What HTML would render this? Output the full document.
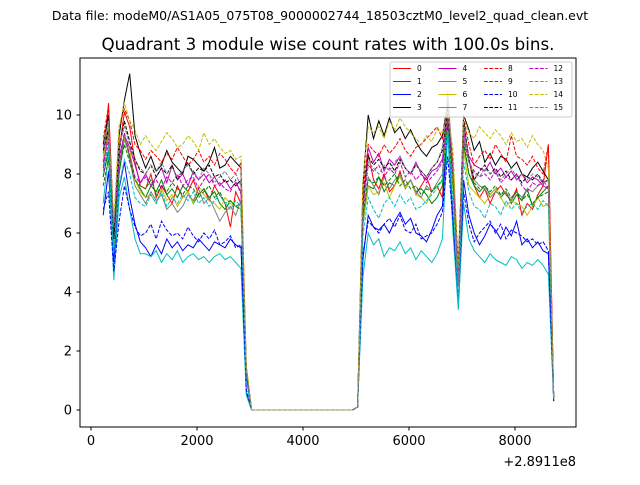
<!DOCTYPE html>
<html><head><meta charset="utf-8"><style>
body{margin:0;background:#fff}
svg text{font-family:"DejaVu Sans","Liberation Sans",sans-serif}
</style></head><body>
<svg id="chart" width="640" height="480" xmlns="http://www.w3.org/2000/svg">
<text x="320" y="20" font-size="12.5" text-anchor="middle">Data file: modeM0/AS1A05_075T08_9000002744_18503cztM0_level2_quad_clean.evt</text>
<text x="328" y="50" font-size="16.7" text-anchor="middle">Quadrant 3 module wise count rates with 100.0s bins.</text>
<g id="plot"></g>
<rect x="80" y="58" width="496" height="369" fill="none" stroke="#000" stroke-width="1"/>
<g id="xaxis"></g>
<g id="yaxis"></g>
<text x="576" y="466" font-size="13" text-anchor="end">+2.8911e8</text>
<g id="legend"></g>
</svg>
<script>
const times=[230,330,430,530,630,730,830,930,1030,1130,1230,1330,1430,1530,1630,1730,1830,1930,2030,2130,2230,2330,2430,2530,2630,2730,2830,2930,
3030,3130,3230,3330,3430,3530,3630,3730,3830,3930,4030,4130,4230,4330,4430,4530,4630,4730,4830,4930,
5030,5130,5230,5330,5430,5530,5630,5730,5830,5930,6030,6130,6230,6330,6430,6530,6630,6730,6830,6930,7030,7130,7230,7330,7430,7530,7630,7730,7830,7930,8030,8130,8230,8330,8430,8530,8630,8730];
const zeros=[0,0,0,0,0,0,0,0,0,0,0,0,0,0,0,0,0,0,0,0];
const seriesNames=["0","1","2","3","4","5","6","7","8","9","10","11","12","13","14","15"];
const colors=["#ff0000","#008000","#0000ff","#000000","#bf00bf","#00bfbf","#bfbf00","#808080","#ff0000","#008000","#0000ff","#000000","#bf00bf","#00bfbf","#bfbf00","#808080"];
const leftVals=[
[8.4,10.4,6.0,8.8,10.1,9.6,8.4,7.6,7.5,8.0,7.2,7.6,7.3,7.0,7.6,7.2,7.4,7.8,7.3,7.5,7.1,7.6,7.3,7.0,6.2,7.4,7.0,1.2],
[7.9,8.8,5.4,8.0,9.2,8.6,7.8,7.5,7.2,7.6,7.4,7.8,7.3,7.5,7.2,7.6,7.4,7.0,7.3,7.5,7.2,7.4,7.0,6.8,7.1,6.9,7.0,1.3],
[6.6,8.1,5.0,7.5,8.4,7.2,6.3,5.7,5.5,5.2,5.6,5.3,5.8,5.5,5.7,5.4,5.6,5.5,5.8,5.6,5.4,5.7,5.6,5.5,5.8,5.6,5.5,0.6],
[9.0,10.0,5.8,9.3,10.5,11.4,9.3,8.7,8.2,8.6,8.1,8.3,8.8,8.4,8.2,8.0,8.6,8.5,8.3,8.1,8.4,8.9,8.2,8.3,8.6,8.4,8.2,1.2],
[8.2,9.5,6.0,8.6,9.3,8.9,8.3,7.7,8.0,7.6,7.9,8.2,7.7,8.3,7.8,8.0,7.6,8.1,7.8,8.0,7.7,7.9,7.6,7.8,7.5,7.7,7.4,1.3],
[7.0,8.7,4.4,7.2,7.9,6.8,5.8,5.3,5.3,5.2,5.4,5.0,5.3,5.1,5.4,5.0,5.2,5.3,5.1,5.2,5.0,5.2,5.3,5.1,5.2,5.0,4.8,0.5],
[8.5,9.6,5.6,8.4,9.2,8.8,7.8,7.4,7.2,7.3,7.0,7.5,7.1,7.3,6.9,7.2,7.4,7.0,7.6,7.3,7.1,7.0,6.8,7.2,7.0,6.9,6.8,1.4],
[8.7,9.7,5.4,8.2,9.3,8.5,7.6,7.3,7.0,7.4,7.1,7.3,6.8,7.0,6.7,6.9,7.3,7.1,7.5,7.0,7.2,6.8,6.4,6.7,6.9,6.6,7.1,1.5],
[9.2,10.3,6.1,9.6,10.2,9.8,9.0,8.8,8.5,8.8,8.6,8.4,8.7,8.5,8.9,8.6,8.3,8.5,8.8,8.4,8.6,8.3,8.7,8.5,8.2,8.0,8.4,1.4],
[7.6,8.5,5.9,8.1,9.0,8.4,7.8,7.6,7.5,7.8,7.3,7.6,7.4,7.7,7.5,7.3,7.6,7.5,7.2,7.4,7.6,7.2,7.4,7.0,7.1,6.9,6.8,1.3],
[6.8,7.4,4.7,6.4,7.6,6.8,6.2,5.9,6.0,6.3,5.8,6.4,6.1,5.9,6.0,5.8,6.2,5.9,5.7,6.0,5.8,6.1,5.6,5.7,5.9,5.5,5.6,0.7],
[8.8,9.5,5.8,8.8,9.8,9.1,8.5,8.1,8.0,8.3,7.9,8.2,8.0,8.3,7.8,8.1,8.4,8.0,8.2,8.1,8.3,7.9,8.0,7.7,7.8,7.6,7.8,1.3],
[7.9,9.2,6.2,8.4,9.4,8.6,7.9,7.7,7.9,7.6,7.8,7.5,7.9,7.7,8.0,7.6,7.8,7.9,7.5,7.8,8.0,7.6,7.7,7.5,7.4,7.8,7.3,1.2],
[8.1,9.0,5.3,7.6,8.5,8.0,7.2,7.0,6.9,7.3,7.0,7.4,6.9,7.2,7.0,7.3,7.1,7.4,7.0,7.2,6.9,7.1,7.3,7.0,6.8,7.1,6.9,1.0],
[9.2,9.6,6.4,9.6,10.4,9.8,9.5,9.0,9.3,9.0,8.8,9.1,9.4,9.2,8.9,9.0,9.3,9.1,8.8,9.4,9.0,9.2,8.9,8.7,8.8,8.5,8.6,1.5],
[8.9,9.8,6.2,9.0,9.6,9.0,8.4,8.2,8.0,8.3,8.1,8.4,8.0,8.2,7.9,8.1,8.3,8.0,7.8,8.2,8.0,7.7,7.9,8.1,7.8,8.0,7.6,1.4]];
const rightVals=[
[0.1,6.8,8.7,7.8,7.5,8.0,7.4,7.6,8.1,7.5,7.8,7.3,7.6,7.9,7.4,7.6,7.2,10.2,7.8,4.5,9.6,8.5,7.6,7.2,7.5,7.0,7.4,7.6,7.3,7.1,7.5,6.6,7.0,6.8,7.3,7.6,9.0,0.4],
[0.1,6.3,7.6,7.5,7.9,7.4,7.7,7.6,8.0,7.5,7.8,7.4,7.5,7.3,7.0,7.2,7.6,9.6,7.5,4.2,9.0,8.0,7.6,7.4,7.6,7.3,7.5,7.2,7.4,7.0,7.3,7.1,7.5,6.9,7.2,7.4,7.6,0.4],
[0.1,5.1,6.6,6.2,6.1,6.3,6.0,6.4,6.7,6.3,6.5,6.0,5.9,5.7,6.1,6.6,6.9,9.6,6.5,3.6,7.8,6.6,6.0,5.6,5.9,6.3,6.1,5.8,6.2,5.9,6.4,5.6,5.8,5.5,5.7,5.4,5.3,0.3],
[0.1,7.6,10.0,9.2,9.8,9.3,9.9,9.4,9.6,9.2,9.5,9.1,8.8,8.6,8.9,9.0,9.3,10.4,8.2,4.8,10.0,9.5,8.8,9.1,8.4,8.7,8.3,8.6,8.5,8.2,8.4,8.0,7.9,8.2,8.4,8.1,7.8,0.4],
[0.1,7.0,8.9,8.4,8.7,8.1,8.5,8.3,8.6,8.2,8.0,8.4,8.0,7.8,8.1,8.2,8.5,10.0,8.0,4.5,9.4,8.6,8.3,8.2,8.1,8.4,8.0,8.2,7.9,8.1,7.8,8.0,7.7,7.9,7.8,7.6,7.5,0.4],
[0.1,4.5,6.0,5.6,5.8,5.2,5.5,5.4,5.7,5.3,5.5,5.1,5.4,5.2,5.0,5.3,5.8,9.4,6.0,3.4,7.0,5.8,5.4,5.2,5.0,5.3,5.1,5.0,4.9,5.2,5.1,4.8,5.0,4.9,5.1,4.9,4.6,0.3],
[0.1,6.4,7.6,7.3,7.4,7.7,7.2,7.6,7.9,7.5,7.8,7.3,7.2,7.0,7.4,7.6,7.8,10.0,7.6,4.2,8.8,7.6,7.4,7.2,7.0,7.3,7.5,7.2,6.9,7.1,7.0,6.9,6.6,6.9,7.2,6.9,7.0,0.4],
[0.1,6.5,7.9,7.6,7.3,7.9,7.5,7.8,8.0,7.6,7.8,7.4,7.2,7.6,7.4,7.7,8.0,10.8,8.2,4.2,9.8,8.5,7.8,7.6,7.5,7.2,7.4,7.3,7.4,7.1,7.4,7.2,7.5,7.4,7.6,7.7,7.8,0.4],
[0.1,7.4,9.0,8.8,8.6,9.0,8.7,8.9,9.2,8.8,8.6,8.9,9.0,9.2,9.4,9.6,9.2,10.2,8.4,4.9,9.9,9.0,8.3,8.6,8.8,8.5,9.0,8.7,8.4,9.3,8.6,8.5,8.3,8.6,8.2,8.0,9.0,0.4],
[0.1,6.6,7.8,7.7,7.9,7.6,7.8,8.0,7.6,7.8,7.5,7.6,7.3,7.5,7.4,7.6,7.8,9.8,7.8,4.4,9.2,8.0,7.7,7.5,7.6,7.4,7.6,7.3,7.5,7.2,7.4,7.1,7.3,7.0,7.2,7.3,7.4,0.4],
[0.1,5.3,6.4,6.2,6.0,6.3,6.5,6.2,6.6,6.1,6.0,6.3,5.8,5.9,6.0,6.3,6.7,8.6,6.4,3.7,7.4,6.3,5.7,6.0,6.2,6.4,6.0,6.3,5.8,6.1,6.0,5.9,5.7,5.8,5.6,5.7,5.4,0.3],
[0.1,7.0,8.6,8.3,8.5,8.2,8.4,8.1,8.5,8.2,8.0,8.3,8.1,7.9,8.2,8.4,8.8,10.2,8.0,4.6,9.8,8.5,7.8,8.1,8.3,8.0,8.2,7.9,8.1,7.8,8.0,7.7,7.9,7.8,8.0,7.7,7.8,0.4],
[0.1,6.8,8.3,8.1,8.3,7.9,8.2,8.0,8.4,7.9,8.1,7.8,8.0,7.7,7.9,8.1,8.4,9.9,8.0,4.4,9.2,8.4,8.1,7.9,8.0,7.8,8.1,7.7,7.9,7.8,8.0,7.6,7.4,7.7,7.6,7.8,7.5,0.4],
[0.1,5.9,7.2,6.8,6.5,7.0,7.2,6.9,7.3,7.0,7.2,6.8,6.9,7.1,7.3,7.5,7.8,9.5,7.0,3.6,8.4,7.4,6.9,6.8,6.5,7.0,6.9,6.6,7.1,6.8,7.0,6.7,6.9,7.0,6.8,7.1,6.9,0.4],
[0.1,7.8,9.6,9.4,9.6,9.2,9.8,9.5,9.9,9.6,9.4,9.2,9.0,9.3,9.1,9.5,9.4,10.1,8.8,4.8,9.9,9.4,9.2,9.6,9.4,9.2,9.5,9.3,9.0,9.4,9.1,9.2,8.9,9.3,9.0,8.8,8.2,0.4],
[0.1,7.0,8.4,8.2,8.0,8.3,8.1,8.4,8.6,8.2,8.0,8.3,8.1,7.9,8.2,8.4,8.9,10.5,8.1,4.4,9.6,8.4,8.0,7.9,8.2,8.0,8.1,7.8,8.0,8.2,7.9,8.0,7.8,8.0,7.9,7.7,7.8,0.4]];
const xTicks=[0,2000,4000,6000,8000];
const yTicks=[0,2,4,6,8,10];

const NS="http://www.w3.org/2000/svg";
function xs(t){return 91+t*0.053;}
function ys(v){return 410-v*29.5;}
const plot=document.getElementById('plot');
for(let s=0;s<seriesNames.length;s++){
  const vals=leftVals[s].concat(zeros,rightVals[s]);
  const pts=times.map((t,i)=>xs(t).toFixed(1)+','+ys(vals[i]).toFixed(1)).join(' ');
  const pl=document.createElementNS(NS,'polyline');
  
  
  pl.setAttribute('points',pts);
  pl.setAttribute('fill','none');
  pl.setAttribute('stroke',colors[s]);
  pl.setAttribute('stroke-width','1');
  if(s>=8)pl.setAttribute('stroke-dasharray','3.7 1.6');
  plot.appendChild(pl);
}
const xa=document.getElementById('xaxis');
xTicks.forEach(t=>{
  const l=document.createElementNS(NS,'line');
  
  
  l.setAttribute('x1',xs(t));l.setAttribute('x2',xs(t));l.setAttribute('y1',427);l.setAttribute('y2',430.5);l.setAttribute('stroke','#000');
  xa.appendChild(l);
  const tx=document.createElementNS(NS,'text');
  
  
  tx.setAttribute('x',xs(t));tx.setAttribute('y',445);tx.setAttribute('font-size','13');tx.setAttribute('text-anchor','middle');
  tx.textContent=t;xa.appendChild(tx);
});
const ya=document.getElementById('yaxis');
yTicks.forEach(v=>{
  const l=document.createElementNS(NS,'line');
  
  
  l.setAttribute('x1',76.5);l.setAttribute('x2',80);l.setAttribute('y1',ys(v));l.setAttribute('y2',ys(v));l.setAttribute('stroke','#000');
  ya.appendChild(l);
  const tx=document.createElementNS(NS,'text');
  
  
  tx.setAttribute('x',72);tx.setAttribute('y',ys(v)+4.5);tx.setAttribute('font-size','13');tx.setAttribute('text-anchor','end');
  tx.textContent=v;ya.appendChild(tx);
});
const lg=document.getElementById('legend');
const box=document.createElementNS(NS,'rect');


box.setAttribute('x',390);box.setAttribute('y',62);box.setAttribute('width',182);box.setAttribute('height',55);
box.setAttribute('rx',2);box.setAttribute('fill','#fff');box.setAttribute('fill-opacity','0.8');box.setAttribute('stroke','#ccc');
lg.appendChild(box);
seriesNames.forEach((n,s)=>{
  const col=Math.floor(s/4),row=s%4;
  const x=393+col*45.5,y=68.5+row*13;
  const g=document.createElementNS(NS,'g');
  
  
  const l=document.createElementNS(NS,'line');
  l.setAttribute('x1',x);l.setAttribute('x2',x+18);l.setAttribute('y1',y);l.setAttribute('y2',y);
  l.setAttribute('stroke',colors[s]);l.setAttribute('stroke-width','1');
  if(s>=8)l.setAttribute('stroke-dasharray','3.7 1.6');
  g.appendChild(l);
  const tx=document.createElementNS(NS,'text');
  tx.setAttribute('x',x+24);tx.setAttribute('y',y+2.5);tx.setAttribute('font-size','7.5');
  tx.textContent=n;g.appendChild(tx);
  lg.appendChild(g);
});
</script>
</body></html>
